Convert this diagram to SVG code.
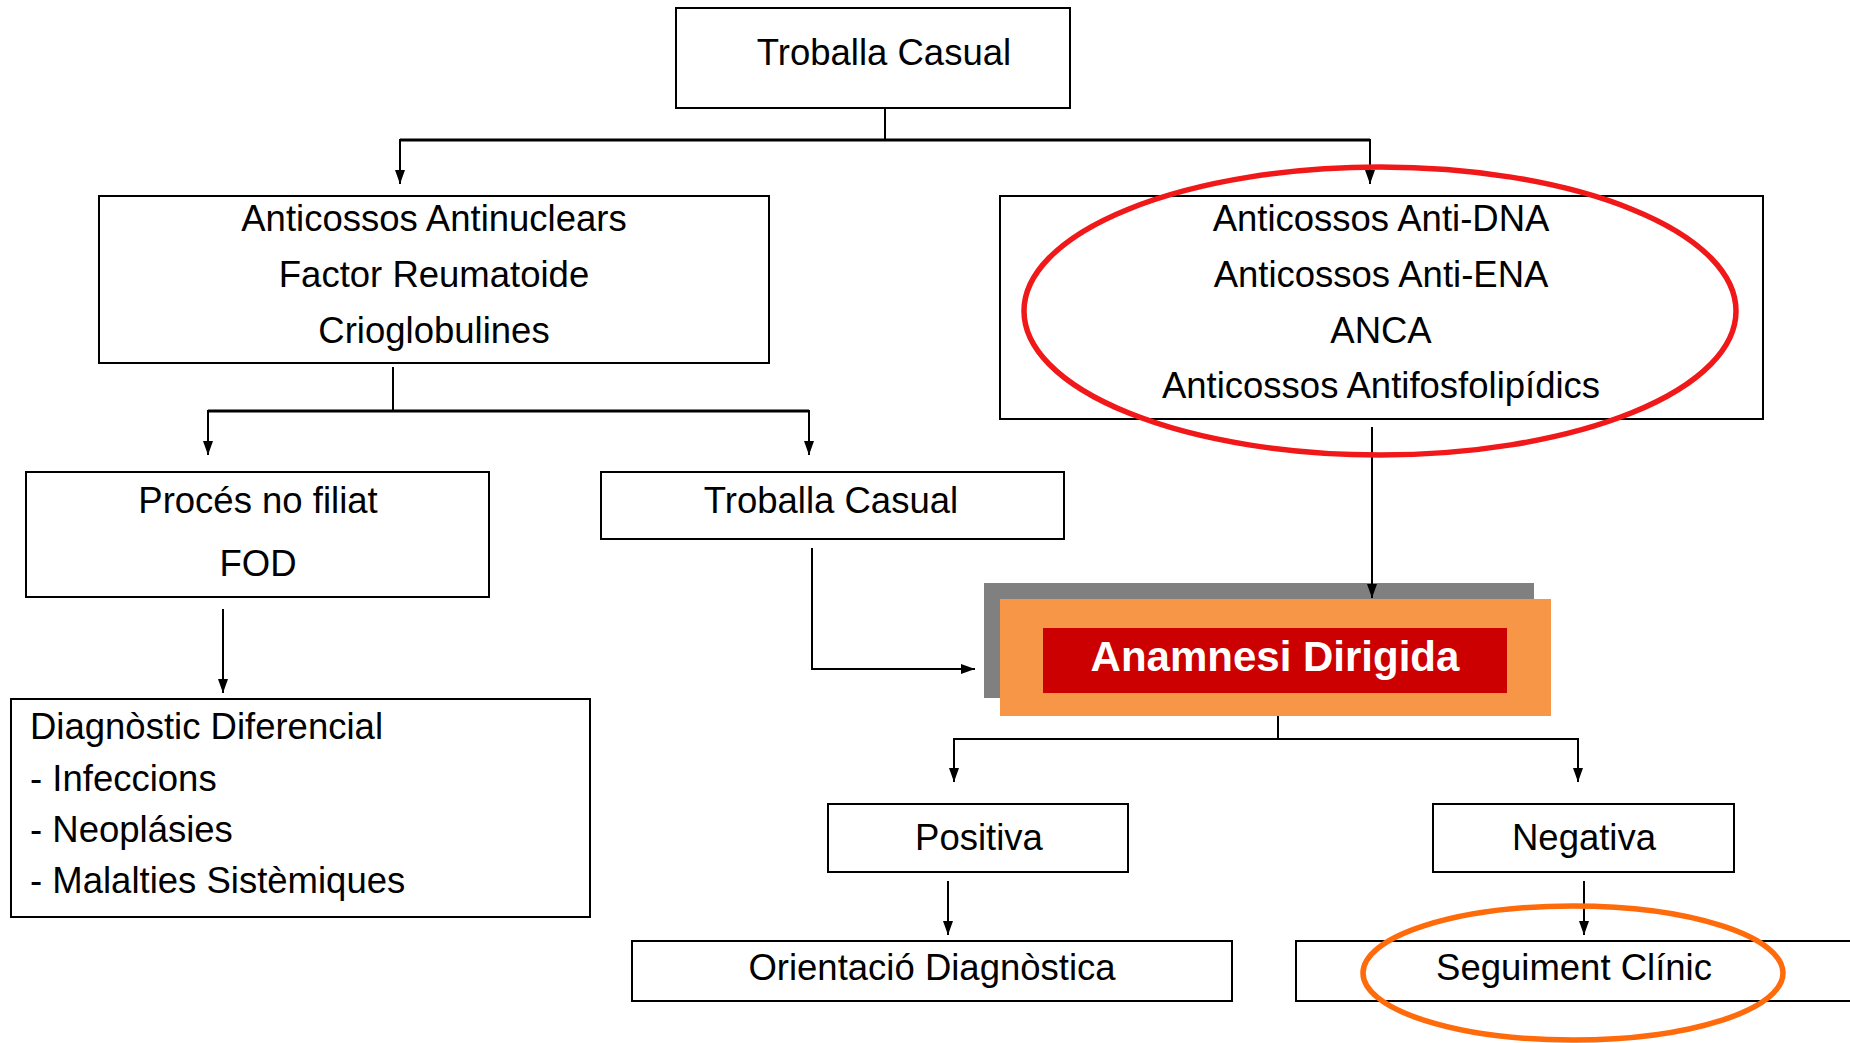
<svg xmlns="http://www.w3.org/2000/svg" width="1850" height="1043" viewBox="0 0 1850 1043">
  <style>
    .box { fill: #ffffff; stroke: #000000; stroke-width: 2; }
    .t { font-family: "Liberation Sans", Arial, sans-serif; font-size: 36.5px; fill: #000000; }
    .c { text-anchor: middle; }
    .wire { fill: none; stroke: #000000; stroke-width: 2; }
    .bus { fill: none; stroke: #000000; stroke-width: 3; }
    .hl { fill: none; stroke-width: 5.5; }
  </style>
  <defs>
    <marker id="arrow" viewBox="0 0 14 10" refX="14" refY="5" markerWidth="14" markerHeight="10" markerUnits="userSpaceOnUse" orient="auto">
      <path d="M0,0 L14,5 L0,10 z" fill="#000000"/>
    </marker>
  </defs>
  <rect width="1850" height="1043" fill="#ffffff"/>

  <g id="troballa-top">
    <rect class="box" x="676" y="8" width="394" height="100"/>
    <text class="t c" x="884" y="65">Troballa Casual</text>
  </g>

  <g id="anticossos-basics">
    <rect class="box" x="99" y="196" width="670" height="167"/>
    <text class="t c" x="434" y="231">Anticossos Antinuclears</text>
    <text class="t c" x="434" y="287">Factor Reumatoide</text>
    <text class="t c" x="434" y="343">Crioglobulines</text>
  </g>

  <g id="anticossos-especifics">
    <rect class="box" x="1000" y="196" width="763" height="223"/>
    <text class="t c" x="1381" y="231">Anticossos Anti-DNA</text>
    <text class="t c" x="1381" y="287">Anticossos Anti-ENA</text>
    <text class="t c" x="1381" y="343">ANCA</text>
    <text class="t c" x="1381" y="398">Anticossos Antifosfolipídics</text>
  </g>

  <g id="proces-no-filiat">
    <rect class="box" x="26" y="472" width="463" height="125"/>
    <text class="t c" x="258" y="513">Procés no filiat</text>
    <text class="t c" x="258" y="576">FOD</text>
  </g>

  <g id="troballa-casual">
    <rect class="box" x="601" y="472" width="463" height="67"/>
    <text class="t c" x="831" y="513">Troballa Casual</text>
  </g>

  <g id="diagnostic-diferencial">
    <rect class="box" x="11" y="699" width="579" height="218"/>
    <text class="t" x="30" y="739">Diagnòstic Diferencial</text>
    <text class="t" x="30" y="791">- Infeccions</text>
    <text class="t" x="30" y="842">- Neoplásies</text>
    <text class="t" x="30" y="893">- Malalties Sistèmiques</text>
  </g>

  <g id="anamnesi-dirigida">
    <rect x="984" y="583" width="550" height="115" fill="#808080"/>
    <rect x="1000" y="599" width="551" height="117" fill="#f79646"/>
    <rect x="1043" y="628" width="464" height="65" fill="#cc0000"/>
    <text x="1275" y="671" text-anchor="middle" font-family="'Liberation Sans', Arial, sans-serif" font-size="42" font-weight="bold" fill="#ffffff">Anamnesi Dirigida</text>
  </g>

  <g id="positiva">
    <rect class="box" x="828" y="804" width="300" height="68"/>
    <text class="t c" x="979" y="850">Positiva</text>
  </g>

  <g id="negativa">
    <rect class="box" x="1433" y="804" width="301" height="68"/>
    <text class="t c" x="1584" y="850">Negativa</text>
  </g>

  <g id="orientacio-diagnostica">
    <rect class="box" x="632" y="941" width="600" height="60"/>
    <text class="t c" x="932" y="980">Orientació Diagnòstica</text>
  </g>

  <g id="seguiment-clinic">
    <rect class="box" x="1296" y="941" width="570" height="60"/>
    <text class="t c" x="1574" y="980">Seguiment Clínic</text>
  </g>

  <!-- connectors, drawn over the boxes so arrow tips stay visible -->
  <g id="connectors">
    <path class="wire" d="M885,108 V140"/>
    <path class="bus" d="M400,140 H1370"/>
    <path class="wire" d="M400,139 V184" marker-end="url(#arrow)"/>
    <path class="wire" d="M1370,139 V184" marker-end="url(#arrow)"/>
    <path class="wire" d="M393,367 V411"/>
    <path class="bus" d="M208,411 H809"/>
    <path class="wire" d="M208,410 V455" marker-end="url(#arrow)"/>
    <path class="wire" d="M809,410 V455" marker-end="url(#arrow)"/>
    <path class="wire" d="M1372,427 V598" marker-end="url(#arrow)"/>
    <path class="wire" d="M812,548 V669 H975" marker-end="url(#arrow)"/>
    <path class="wire" d="M223,609 V693" marker-end="url(#arrow)"/>
    <path class="wire" d="M1278,716 V739"/>
    <path class="wire" d="M954,739 H1578"/>
    <path class="wire" d="M954,738 V782" marker-end="url(#arrow)"/>
    <path class="wire" d="M1578,738 V782" marker-end="url(#arrow)"/>
    <path class="wire" d="M948,881 V935" marker-end="url(#arrow)"/>
    <path class="wire" d="M1584,881 V935" marker-end="url(#arrow)"/>
  </g>

  <!-- hand-drawn highlight rings -->
  <g id="highlights">
    <ellipse class="hl" cx="1380" cy="311" rx="356" ry="144" stroke="#f01818"/>
    <ellipse class="hl" cx="1573" cy="973" rx="210" ry="67" stroke="#ff6a0a"/>
  </g>
</svg>
